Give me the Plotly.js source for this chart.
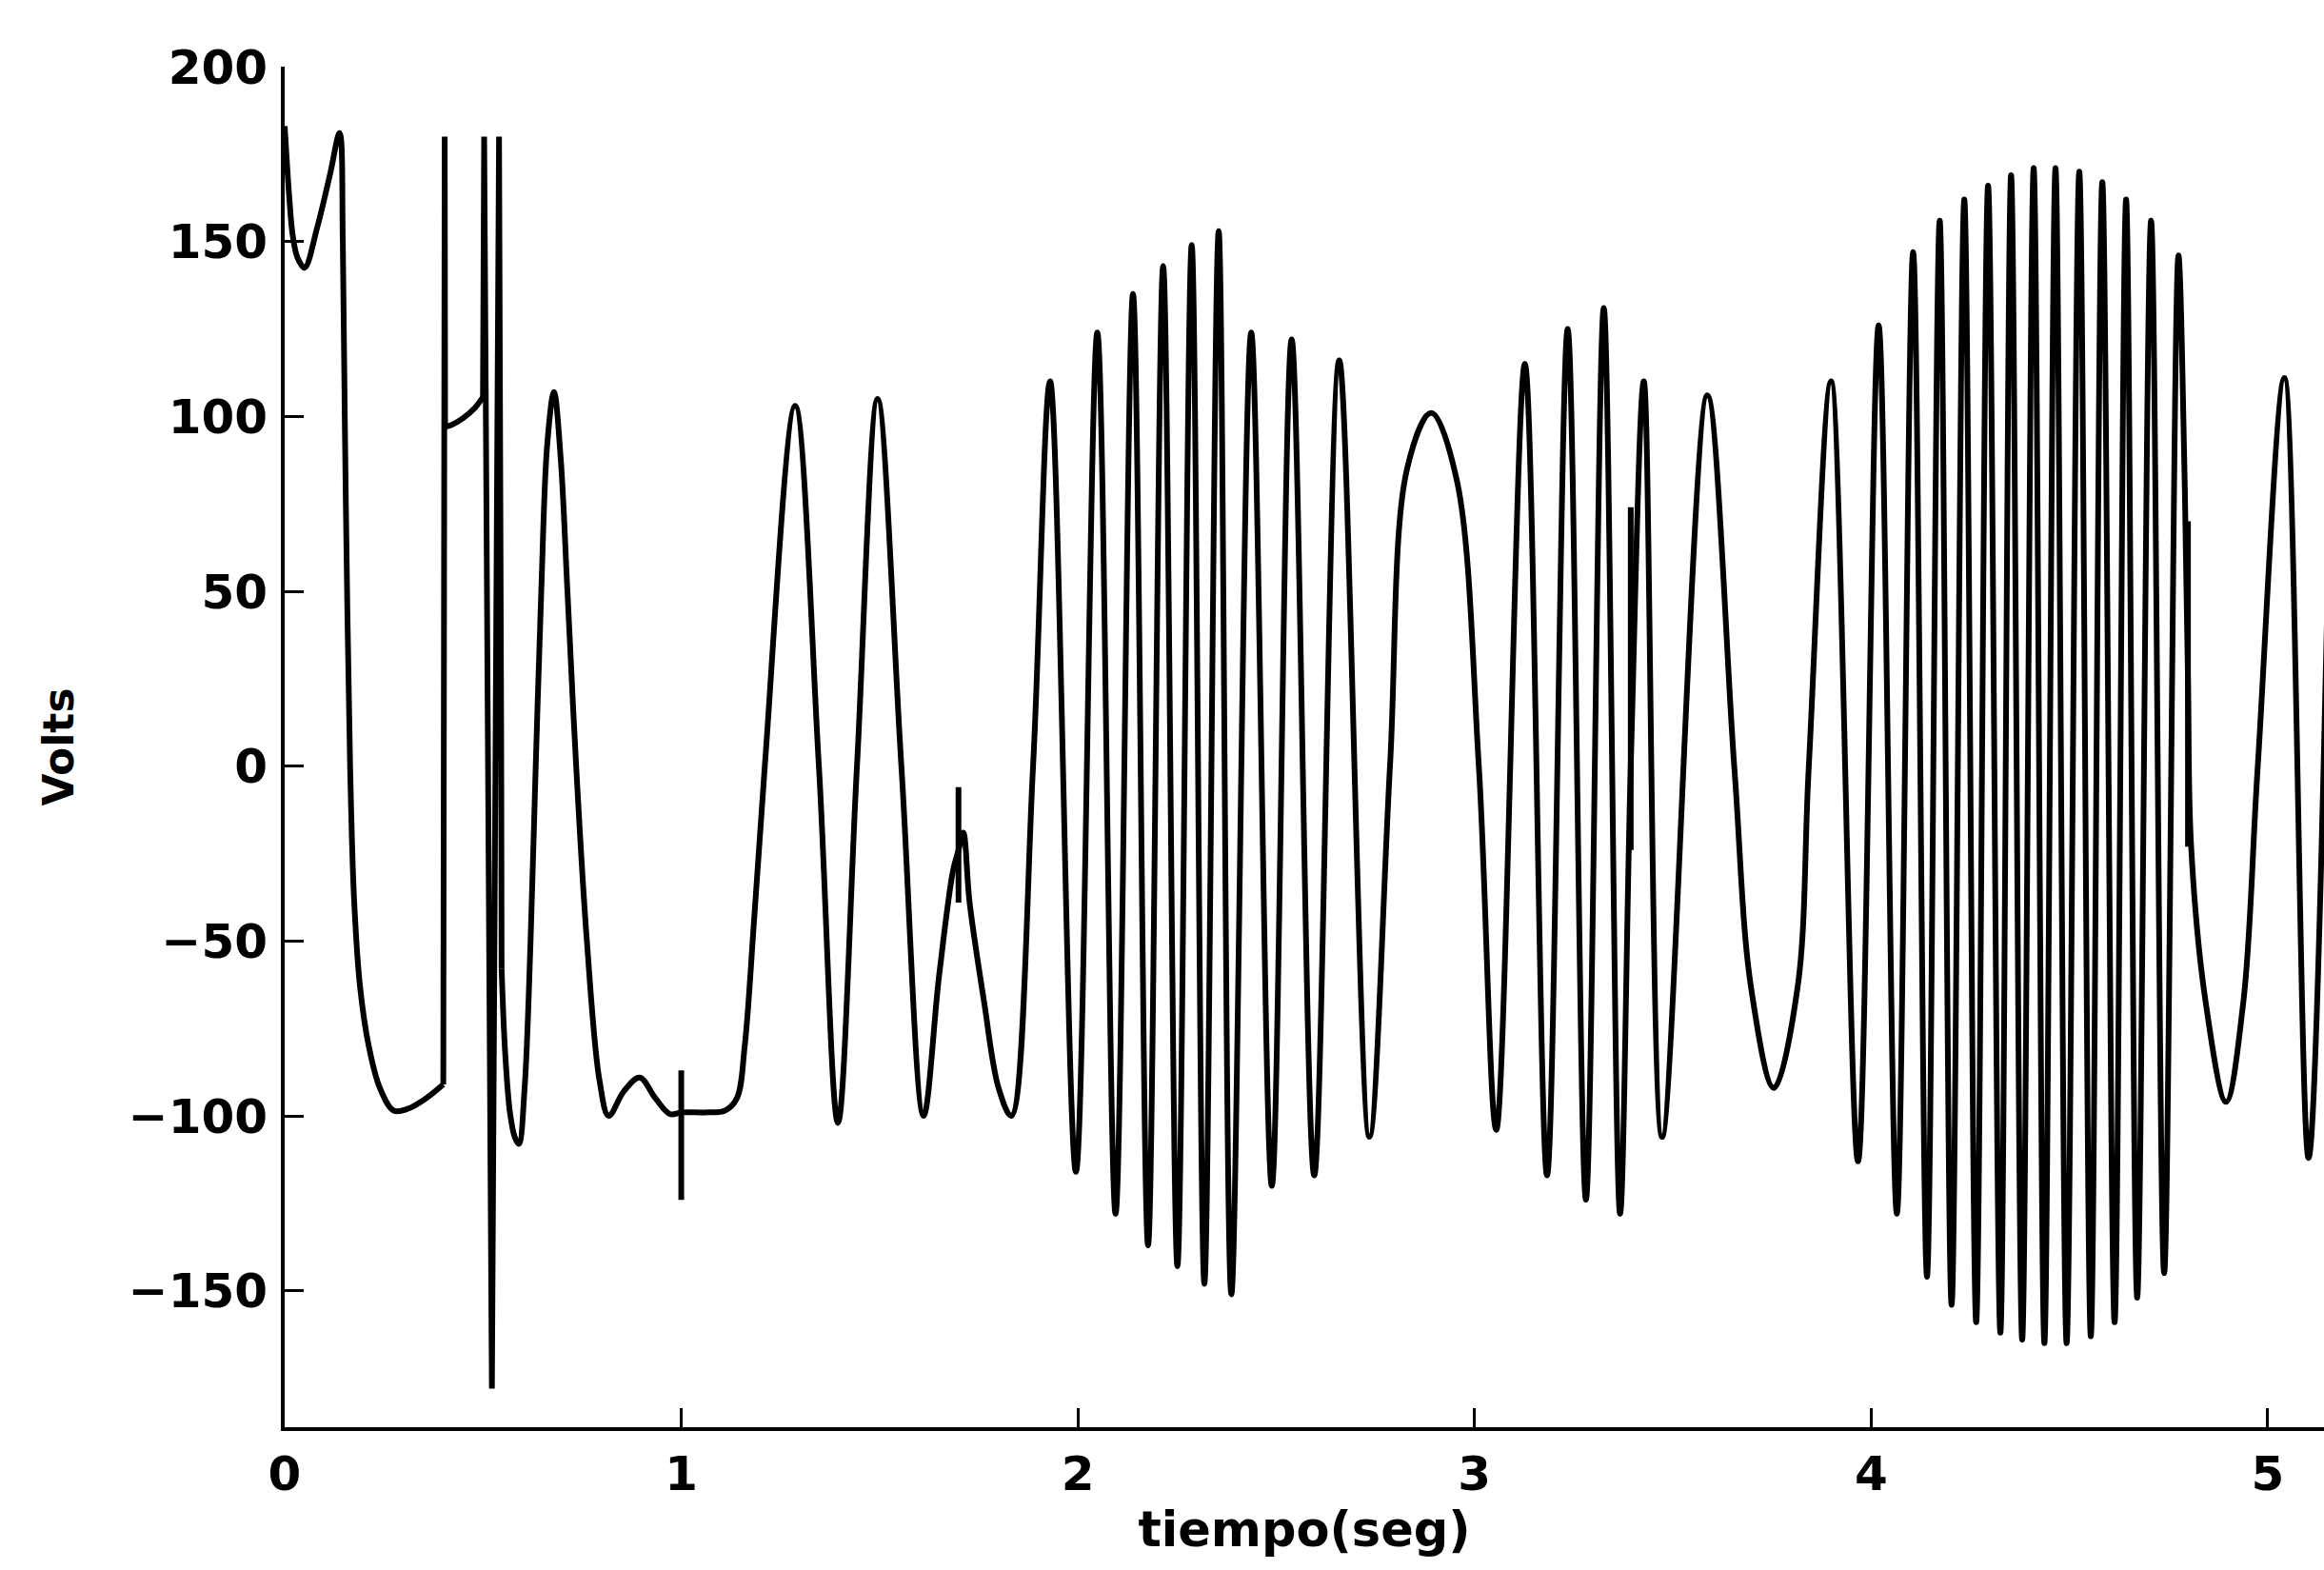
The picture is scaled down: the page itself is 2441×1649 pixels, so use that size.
<!DOCTYPE html>
<html>
<head>
<meta charset="utf-8">
<script src="https://cdn.plot.ly/plotly-3.0.1.min.js"></script>
<style>html,body{margin:0;padding:0;background:#fff;}#chart{width:2441px;height:1649px;}</style>
</head>
<body>
<div id="chart"></div>
<script>
// ---- values ----
// initial transient (0 .. 0.40 s)
const t_start = [0.000, 0.006, 0.012, 0.020, 0.032, 0.050, 0.082, 0.114, 0.1385, 0.1466, 0.1515, 0.158, 0.165, 0.175, 0.190, 0.212, 0.240, 0.275, 0.310, 0.350, 0.400];
const v_start = [183, 172, 162, 152, 145.5, 142.5, 154, 169, 181, 150, 100, 45, 0, -38, -63, -80, -92, -98.5, -98, -95.5, -91];

// short plateau after the first switching spike (0.40 .. 0.50 s)
const t_plateau = [0.4045, 0.420, 0.450, 0.480, 0.500];
const v_plateau = [97, 97.5, 99.5, 102.5, 105.5];

// oscillating voltage (0.547 s .. end)
const t_wave = [0.547, 0.556, 0.568, 0.580, 0.5905, 0.605, 0.620, 0.633, 0.647, 0.662, 0.679, 0.696, 0.713, 0.735, 0.762, 0.794, 0.817,
  0.855, 0.895, 0.935, 0.972, 1.000, 1.060, 1.110, 1.140, 1.160, 1.183, 1.2106, 1.287, 1.347,
  1.395, 1.443, 1.495, 1.555, 1.611, 1.650, 1.685, 1.699, 1.711, 1.727, 1.763, 1.800, 1.832, 1.887,
  1.930, 1.995, 2.049, 2.095, 2.139, 2.177, 2.215, 2.251, 2.287, 2.319, 2.355, 2.387, 2.437, 2.489, 2.539, 2.596, 2.659, 2.735,
  2.787, 2.830, 2.891, 2.955, 3.011, 3.055,
  3.127, 3.183, 3.235, 3.281, 3.326, 3.367, 3.394, 3.427, 3.473, 3.587, 3.655, 3.697, 3.755, 3.815, 3.843, 3.899, 3.967,
  4.019, 4.065, 4.106, 4.141, 4.173, 4.203, 4.235, 4.265, 4.295, 4.326, 4.353, 4.381, 4.410, 4.437, 4.465, 4.493, 4.525, 4.554,
  4.583, 4.614, 4.643, 4.671, 4.706, 4.739, 4.775, 4.791, 4.799, 4.807, 4.843, 4.895, 4.939, 4.975, 5.042, 5.103, 5.165];
const v_wave = [-58, -82, -99, -106, -108, -92, -50, 0, 50, 92, 107, 88, 50, 0, -50, -90, -100,
  -93, -89, -95, -99.5, -99, -99, -98.5, -95, -80, -45, 0, 103, 0,
  -102, 0, 105, 0, -100, -60, -30, -24, -19, -39, -67, -92, -100, 0,
  110, -116, 124, -128, 135, -137, 143, -143, 149, -148, 153, -151, 124, -120, 122, -117, 116, -106,
  0, 85, 101, 82, 0, -104,
  115, -117, 125, -124, 131, -128, 0, 110, -106, 106, 0, -63, -92, -63, 0, 110, -113,
  126, -128, 147, -146, 156, -154, 162, -159, 166, -162, 169, -164, 171, -165, 171, -165, 170, -163,
  167, -159, 162, -152, 156, -145, 146, 80, 25, -23, -67, -96, -67, 0, 111, -112, 128];

// abrupt switching jumps and short glitches (straight segments, null separates them)
const t_jump = [0.400, 0.401, 0.4035, 0.4045, null,
  0.500, 0.503, 0.5225, 0.5405, 0.546, 0.5465, 0.547, null,
  1.000, 1.000, null,
  1.699, 1.699, null,
  3.394, 3.394, null,
  4.799, 4.799];
const v_jump = [-91, 180, 180, 97, null,
  105.5, 180, -178, 180, 5, 5, -58, null,
  -87, -124, null,
  -6, -39, null,
  74, -24, null,
  70, -23];

const xTickVals = [0, 1, 2, 3, 4, 5];
const yTickVals = [-150, -100, -50, 0, 50, 100, 150, 200];
const xTitle = 'tiempo(seg)';
const yTitle = 'Volts';

// ---- build ----
const tMain = t_start.concat([null], t_plateau, [null], t_wave);
const vMain = v_start.concat([null], v_plateau, [null], v_wave);

const lineStyle = {color: '#000', width: 6};
const traces = [
  {x: tMain, y: vMain, type: 'scatter', mode: 'lines', line: Object.assign({shape: 'spline', smoothing: 1}, lineStyle), connectgaps: false, hoverinfo: 'skip'},
  {x: t_jump, y: v_jump, type: 'scatter', mode: 'lines', line: Object.assign({shape: 'linear'}, lineStyle), connectgaps: false, hoverinfo: 'skip'}
];

const tickFont = {family: 'DejaVu Sans', size: 50, color: '#000', weight: 'bold'};
const titleFont = {family: 'DejaVu Sans', size: 51, color: '#000', weight: 'bold'};

const layout = {
  width: 2441, height: 1649,
  margin: {l: 299, r: 0, t: 70, b: 150},
  paper_bgcolor: '#fff', plot_bgcolor: '#fff',
  showlegend: false,
  xaxis: {
    range: [0, 5.142], tickvals: xTickVals, ticktext: xTickVals.map(String),
    showline: true, linecolor: '#000', linewidth: 4, mirror: false,
    ticks: 'inside', ticklen: 20, tickwidth: 3, tickcolor: '#000',
    showgrid: false, zeroline: false, tickfont: tickFont, ticklabelstandoff: 2,
    title: {text: xTitle, font: titleFont, standoff: 10}
  },
  yaxis: {
    range: [-189, 200], tickvals: yTickVals, ticktext: yTickVals.map(v => v < 0 ? '\u2212' + Math.abs(v) : String(v)),
    showline: true, linecolor: '#000', linewidth: 4, mirror: false,
    ticks: 'inside', ticklen: 20, tickwidth: 3, tickcolor: '#000',
    showgrid: false, zeroline: false, tickfont: tickFont, ticklabelstandoff: 4,
    title: {text: yTitle, font: {family: 'DejaVu Sans', size: 44, color: '#000', weight: 'bold'}, standoff: 44}
  }
};

Plotly.newPlot('chart', traces, layout, {staticPlot: true, displayModeBar: false});
</script>
</body>
</html>
